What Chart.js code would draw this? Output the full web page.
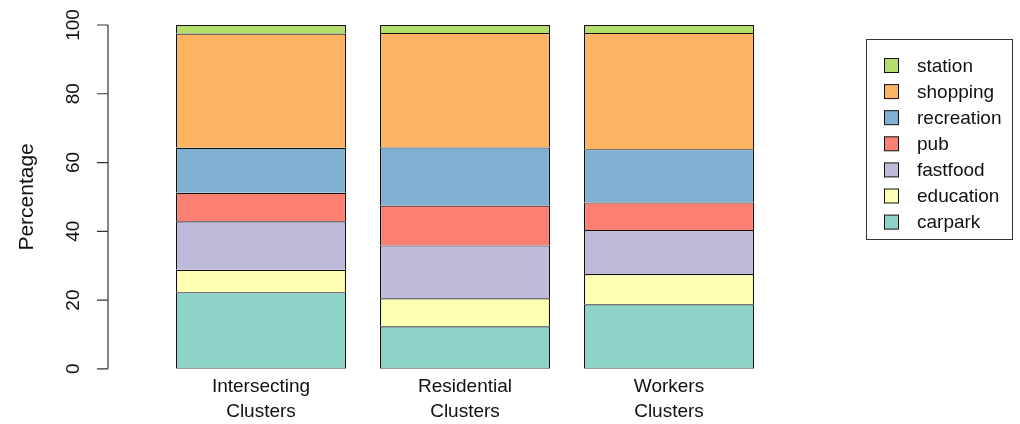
<!DOCTYPE html>
<html>
<head>
<meta charset="utf-8">
<script src="https://cdn.jsdelivr.net/npm/chart.js@4.4.1/dist/chart.umd.min.js"></script>
<style>
  html, body { margin: 0; padding: 0; background: #ffffff; }
  canvas { display: block; }
</style>
</head>
<body>
<canvas id="chart" width="1020" height="424"></canvas>
<script>
// Cluster groups on the x axis
const categories = [['Intersecting', 'Clusters'], ['Residential', 'Clusters'], ['Workers', 'Clusters']];

// Share of each amenity type per cluster group (percent)
const carpark    = [22.3, 12.4, 18.8];
const education  = [6.5, 8.1, 8.8];
const fastfood   = [14.1, 15.4, 12.8];
const pub        = [8.3, 11.6, 8.0];
const recreation = [13.1, 16.9, 15.5];
const shopping   = [33.2, 33.3, 33.8];
const station    = [2.5, 2.3, 2.3];

const seriesNames = ['carpark', 'education', 'fastfood', 'pub', 'recreation', 'shopping', 'station'];
const seriesValues = [carpark, education, fastfood, pub, recreation, shopping, station];
const seriesColors = ['#8DD3C7', '#FFFFB3', '#BEBADA', '#FB8072', '#80B1D3', '#FDB462', '#B3DE69'];

const yTicks = [0, 20, 40, 60, 80, 100];
const yTitle = 'Percentage';

const FONT = '"Liberation Sans", Arial, Helvetica, sans-serif';
const INK = '#111111';

const datasets = seriesNames.map((name, i) => ({
  label: name,
  data: seriesValues[i],
  backgroundColor: seriesColors[i],
  borderColor: INK,
  borderWidth: 1.2,
  // segments share one edge line: only the lowest segment draws its bottom edge
  borderSkipped: i === 0 ? false : 'bottom',
  barPercentage: 1,
  categoryPercentage: 1 / 1.2
}));

// Left axis (R-style: detached line, outward ticks, labels parallel to axis)
const leftAxisPlugin = {
  id: 'leftAxis',
  afterDraw(chart) {
    const ctx = chart.ctx;
    const y = chart.scales.y;
    const axisX = chart.chartArea.left - 51;
    const top = y.getPixelForValue(yTicks[yTicks.length - 1]);
    const bottom = y.getPixelForValue(yTicks[0]);
    ctx.save();
    ctx.strokeStyle = '#333333';
    ctx.lineWidth = 1.2;
    ctx.beginPath();
    ctx.moveTo(axisX, top);
    ctx.lineTo(axisX, bottom);
    yTicks.forEach(v => {
      const py = y.getPixelForValue(v);
      ctx.moveTo(axisX, py);
      ctx.lineTo(axisX - 11, py);
    });
    ctx.stroke();

    ctx.fillStyle = INK;
    ctx.font = '19px ' + FONT;
    ctx.textAlign = 'center';
    ctx.textBaseline = 'middle';
    yTicks.forEach(v => {
      const py = y.getPixelForValue(v);
      ctx.save();
      ctx.translate(axisX - 34, py);
      ctx.rotate(-Math.PI / 2);
      ctx.fillText(String(v), 0, 0);
      ctx.restore();
    });

    ctx.font = '21px ' + FONT;
    ctx.save();
    ctx.translate(axisX - 81, (top + bottom) / 2);
    ctx.rotate(-Math.PI / 2);
    ctx.fillText(yTitle, 0, 0);
    ctx.restore();
    ctx.restore();
  }
};

// Boxed legend on the right, top entry = top segment of the stack
const boxLegendPlugin = {
  id: 'boxLegend',
  afterDraw(chart) {
    const ctx = chart.ctx;
    const boxX = 866.5, boxY = 39.5, boxW = 146, boxH = 200;
    const rowH = 26.1;
    const firstRow = 65.5;
    ctx.save();
    ctx.strokeStyle = '#333333';
    ctx.lineWidth = 1;
    ctx.strokeRect(boxX, boxY, boxW, boxH);
    ctx.font = '19px ' + FONT;
    ctx.textAlign = 'left';
    ctx.textBaseline = 'middle';
    const ds = chart.data.datasets.slice().reverse();
    ds.forEach((d, i) => {
      const cy = firstRow + i * rowH;
      ctx.fillStyle = d.backgroundColor;
      ctx.fillRect(884.5, cy - 7, 14, 14);
      ctx.strokeStyle = INK;
      ctx.strokeRect(884.5, cy - 7, 14, 14);
      ctx.fillStyle = INK;
      ctx.fillText(d.label, 917, cy + 1);
    });
    ctx.restore();
  }
};

new Chart(document.getElementById('chart'), {
  type: 'bar',
  data: { labels: categories, datasets },
  options: {
    responsive: false,
    animation: false,
    devicePixelRatio: 1,
    layout: { padding: { left: 159, right: 249, top: 25, bottom: -5 } },
    plugins: {
      legend: { display: false },
      tooltip: { enabled: false }
    },
    scales: {
      x: {
        stacked: true,
        grid: { display: false, drawTicks: false },
        border: { display: false },
        ticks: {
          color: INK,
          font: { family: FONT, size: 19, lineHeight: 1.32 },
          padding: 5,
          maxRotation: 0,
          autoSkip: false
        }
      },
      y: {
        stacked: true,
        display: false,
        min: 0,
        max: 100
      }
    }
  },
  plugins: [leftAxisPlugin, boxLegendPlugin]
});
</script>
</body>
</html>
